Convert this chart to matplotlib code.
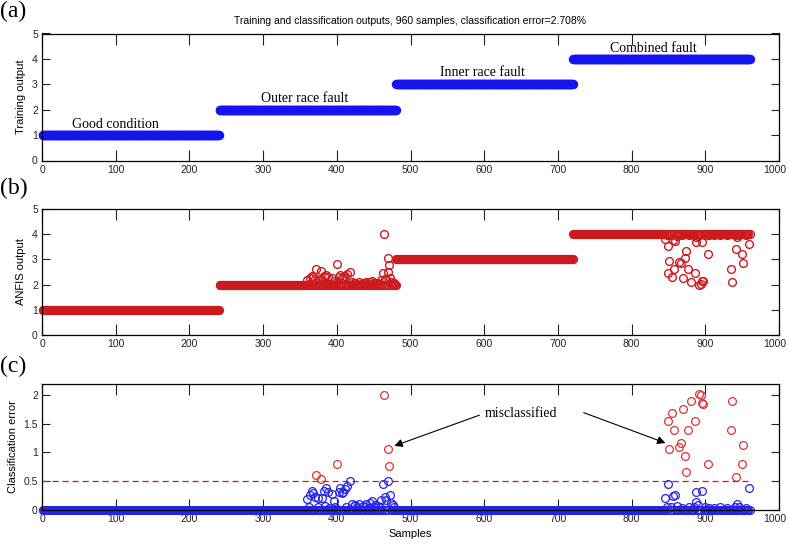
"""
Training target, ANFIS output and classification error for 960 bearing samples.
"""

import matplotlib.pyplot as plt
import matplotlib.transforms as mtransforms
import numpy as np

# class label per block of samples
class_labels = [1, 2, 3, 4]
class_names = ["Good condition", "Outer race fault", "Inner race fault", "Combined fault"]
samples_per_class = 240

# ANFIS outputs that differ from the target (sample number, output value)
dev_samples = [
    360, 362, 363, 366, 368, 370, 372, 374, 375, 378, 380, 382, 384, 386, 388,
    390, 393, 396, 398, 400, 403, 405, 407, 409, 411, 412, 414, 418, 420, 423,
    425, 428, 430, 435, 438, 440, 443, 445, 448, 450, 452, 456, 458, 460, 463,
    464, 466, 467, 469, 470, 471, 472, 474, 476, 478,
    845, 848, 849, 850, 851, 853, 855, 856, 857, 859, 862, 864, 867, 868, 870,
    873, 874, 876, 878, 880, 884, 886, 887, 888, 890, 892, 894, 895, 896, 897,
    899, 903, 905, 912, 920, 930, 935, 936, 940, 942, 943, 946, 950, 951, 955,
    959,
]
dev_values = [
    2.19, 2.04, 2.25, 2.33, 2.29, 2.22, 2.61, 2.20, 2.05, 2.53, 2.20, 2.33, 2.06, 2.38, 2.30,
    2.03, 2.27, 2.15, 2.05, 2.80, 2.30, 2.38, 2.28, 2.31, 2.36, 2.04, 2.41, 2.50, 2.10, 2.06,
    2.08, 2.04, 2.10, 2.06, 2.05, 2.09, 2.03, 2.12, 2.15, 2.05, 2.07, 2.06, 2.04, 2.17, 2.45,
    4.00, 2.22, 2.17, 3.05, 2.49, 2.76, 2.26, 2.12, 2.08, 2.05,
    3.80, 3.95, 2.45, 3.55, 2.95, 3.96, 2.31, 3.76, 2.61, 3.74, 3.94, 2.91, 2.84, 3.97, 2.25,
    3.06, 3.35, 2.61, 3.95, 2.10, 3.96, 2.45, 3.70, 3.87, 3.93, 1.98, 2.01, 3.68, 2.15, 2.16,
    3.95, 3.20, 3.97, 3.98, 3.96, 3.97, 2.61, 2.10, 3.95, 3.43, 3.90, 3.96, 3.21, 2.87, 3.97,
    3.63,
]

title = "Training and classification outputs, 960 samples, classification error=2.708%"
threshold = 0.5

samples = np.arange(1, len(class_labels) * samples_per_class + 1)
target = np.repeat(class_labels, samples_per_class).astype(float)
anfis = target.copy()
anfis[np.array(dev_samples) - 1] = dev_values
err = np.abs(anfis - target)
bad = err > threshold

BLUE = "#1414f0"
RED = "#cc1a1f"
SANS = ["Liberation Sans", "DejaVu Sans"]
SERIF = ["Liberation Serif", "DejaVu Serif"]

plt.rcParams["font.family"] = SANS

fig = plt.figure(figsize=(7.89, 5.44), dpi=100)
W, H = 789, 544


def make_ax(top_px, bottom_px):
    return fig.add_axes([42 / W, 1 - bottom_px / H, 737 / W, (bottom_px - top_px) / H])


def style(ax, ylabel):
    ax.set_xlim(0, 1000)
    ax.set_xticks(np.arange(0, 1001, 100))
    ax.tick_params(direction="in", top=True, right=True, labelsize=7.5, pad=3,
                   length=6, width=0.8, colors="#222222")
    ax.tick_params(axis="x", length=8)
    ax.set_ylabel(ylabel, fontsize=8, labelpad=4)
    for s in ax.spines.values():
        s.set_linewidth(0.9)
    # keep the "1000" label inside the figure
    fig.canvas.draw()
    last = ax.get_xticklabels()[-1]
    last.set_transform(last.get_transform()
                       + mtransforms.ScaledTranslation(-4 / 100, 0, fig.dpi_scale_trans))


ax_a = make_ax(33.5, 160.5)
ax_b = make_ax(209, 335)
ax_c = make_ax(384, 509.5)

# (a) training output
ax_a.plot(samples, target, "o", ms=5.6, mfc="none", mec=BLUE, mew=1.2, clip_on=False)
ax_a.set_ylim(0, 5)
style(ax_a, "Training output")
label_pos = [(100, 1.42), (357, 2.45), (597, 3.47), (830, 4.40)]
for name, (lx, ly) in zip(class_names, label_pos):
    ax_a.text(lx, ly, name, family=SERIF, fontsize=10, ha="center", va="center")
ax_a.set_title(title, fontsize=7.5, pad=7)

# (b) ANFIS output
ax_b.plot(samples, anfis, "o", ms=5.6, mfc="none", mec=RED, mew=1.0, clip_on=False)
ax_b.set_ylim(0, 5)
style(ax_b, "ANFIS output")

# (c) classification error
ax_c.plot(samples[~bad], err[~bad], "o", ms=5.6, mfc="none", mec="#2424e8", mew=0.9,
          clip_on=False)
ax_c.plot(samples[bad], err[bad], "o", ms=5.6, mfc="none", mec="#dd3333", mew=0.9)
ax_c.plot([0, 958], [threshold, threshold], "--", color="#c02020", lw=0.9, dashes=(5, 3))
ax_c.set_ylim(0, 2.19)
ax_c.set_yticks([0, 0.5, 1, 1.5, 2])
ax_c.set_yticklabels(["0", "0.5", "1", "1.5", "2"])
style(ax_c, "Classification error")
ax_c.set_xlabel("Samples", fontsize=8, labelpad=4)

arrow = dict(arrowstyle="-|>", color="black", lw=0.8, mutation_scale=12)
ax_c.annotate("misclassified", xy=(478, 1.11), xytext=(650, 1.68), family=SERIF,
              fontsize=10, ha="center", va="center", arrowprops=dict(arrow, shrinkB=0,
              relpos=(0, 0.5)))
ax_c.annotate("", xy=(846, 1.16), xytext=(735, 1.69),
              arrowprops=dict(arrow, shrinkA=0, shrinkB=0))

# panel letters
for letter, ypx in [("(a)", 11), ("(b)", 188), ("(c)", 366)]:
    fig.text(0, 1 - ypx / H, letter, family=SERIF, fontsize=17, ha="left", va="center")

fig.savefig("out.png", dpi=100)
